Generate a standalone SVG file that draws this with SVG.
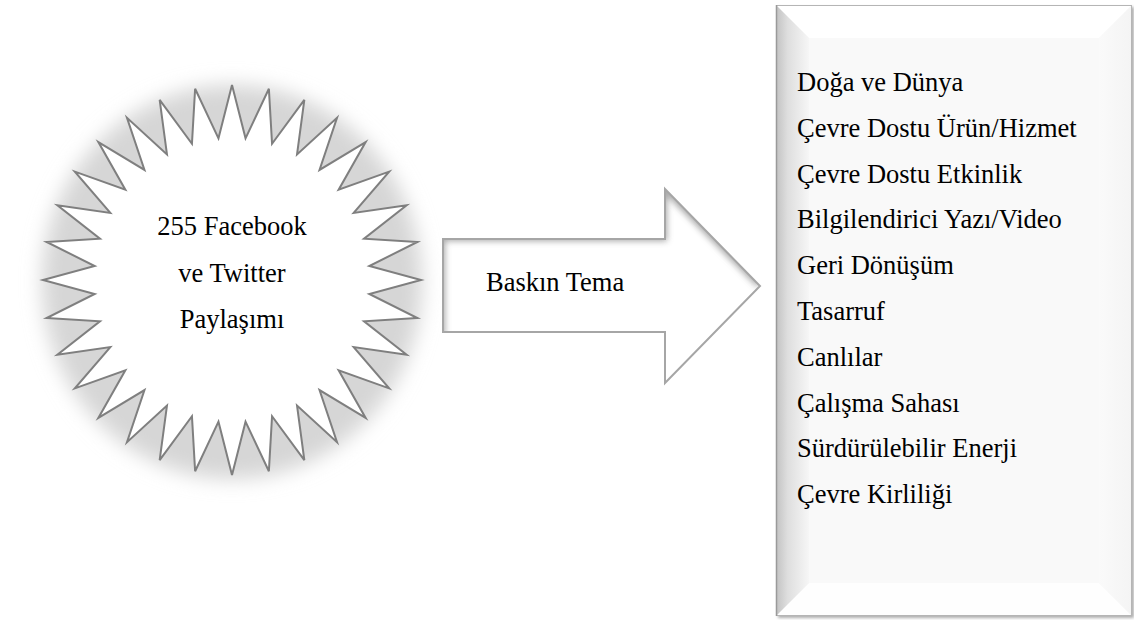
<svg xmlns="http://www.w3.org/2000/svg" width="1134" height="620" viewBox="0 0 1134 620">
<style>
  text { font-family: 'Liberation Serif', 'Times New Roman', serif; font-size: 26.5px; fill: #000; }
  .mid { text-anchor: middle; }
</style>
<defs>
  <filter id="halo" x="-20%" y="-20%" width="140%" height="140%">
    <feGaussianBlur stdDeviation="10"/>
  </filter>
  <filter id="soft" x="-20%" y="-20%" width="140%" height="140%">
    <feGaussianBlur stdDeviation="3"/>
  </filter>
  <filter id="boxShadow" x="-5%" y="-5%" width="110%" height="110%">
    <feGaussianBlur stdDeviation="1.5"/>
  </filter>
  <clipPath id="arrowClip">
    <polygon points="443,239 665,239 665,189 760,286 665,383 665,332 443,332"/>
  </clipPath>
  <linearGradient id="leftBevel" x1="0" y1="0" x2="1" y2="0">
    <stop offset="0" stop-color="#c2c2c2"/>
    <stop offset="0.35" stop-color="#dedede"/>
    <stop offset="1" stop-color="#f6f6f6"/>
  </linearGradient>
  <linearGradient id="rightBevel" x1="0" y1="0" x2="1" y2="0">
    <stop offset="0" stop-color="#fafafa"/>
    <stop offset="1" stop-color="#f4f4f4"/>
  </linearGradient>
</defs>

<g id="source-star">
  <ellipse cx="232" cy="282" rx="190" ry="197" fill="#d6d6d6" filter="url(#halo)"/>
  <polygon transform="translate(232,280) scale(189,195)" fill="#ffffff" stroke="#7f7f7f" stroke-width="2" vector-effect="non-scaling-stroke" stroke-linejoin="miter"
    points="0,-1 0.0716,-0.7265 0.1951,-0.9808 0.2119,-0.6986 0.3827,-0.9239 0.3441,-0.6438 0.5556,-0.8315 0.4631,-0.5643 0.7071,-0.7071 0.5643,-0.4631 0.8315,-0.5556 0.6438,-0.3441 0.9239,-0.3827 0.6986,-0.2119 0.9808,-0.1951 0.7265,-0.0716 1,0 0.7265,0.0716 0.9808,0.1951 0.6986,0.2119 0.9239,0.3827 0.6438,0.3441 0.8315,0.5556 0.5643,0.4631 0.7071,0.7071 0.4631,0.5643 0.5556,0.8315 0.3441,0.6438 0.3827,0.9239 0.2119,0.6986 0.1951,0.9808 0.0716,0.7265 0,1 -0.0716,0.7265 -0.1951,0.9808 -0.2119,0.6986 -0.3827,0.9239 -0.3441,0.6438 -0.5556,0.8315 -0.4631,0.5643 -0.7071,0.7071 -0.5643,0.4631 -0.8315,0.5556 -0.6438,0.3441 -0.9239,0.3827 -0.6986,0.2119 -0.9808,0.1951 -0.7265,0.0716 -1,0 -0.7265,-0.0716 -0.9808,-0.1951 -0.6986,-0.2119 -0.9239,-0.3827 -0.6438,-0.3441 -0.8315,-0.5556 -0.5643,-0.4631 -0.7071,-0.7071 -0.4631,-0.5643 -0.5556,-0.8315 -0.3441,-0.6438 -0.3827,-0.9239 -0.2119,-0.6986 -0.1951,-0.9808 -0.0716,-0.7265"/>
  <text class="mid" x="232" y="235">255 Facebook</text>
  <text class="mid" x="232" y="281.5">ve Twitter</text>
  <text class="mid" x="232" y="328">Paylaşımı</text>
</g>

<g id="connectors">
  <g id="arrow-baskin-tema">
    <polygon points="443,239 665,239 665,189 760,286 665,383 665,332 443,332" fill="#ffffff"/>
    <g clip-path="url(#arrowClip)">
      <polyline points="441,336 441,237 663,237 663,186 760,284" fill="none" stroke="#8a8a8a" stroke-width="8" stroke-linejoin="miter" filter="url(#soft)" opacity="0.75"/>
    </g>
    <polygon points="443,239 665,239 665,189 760,286 665,383 665,332 443,332" fill="none" stroke="#a6a6a6" stroke-width="2"/>
    <text x="486" y="290.7">Baskın Tema</text>
  </g>
</g>

<g id="theme-list">
  <rect x="778" y="7" width="356" height="611" fill="#8c8c8c" opacity="0.7" filter="url(#boxShadow)"/>
  <rect x="776" y="5" width="356" height="611" fill="#f9f9f9"/>
  <polygon points="776,5 1132,5 1099,38 809,38" fill="#ffffff"/>
  <polygon points="776,616 1132,616 1099,583 809,583" fill="#fefefe"/>
  <polygon points="1132,5 1132,616 1099,583 1099,38" fill="url(#rightBevel)"/>
  <polygon points="776,5 809,38 809,583 776,616" fill="url(#leftBevel)"/>
  <rect x="776.5" y="5.5" width="355" height="610" fill="none" stroke="#b5b5b5" stroke-width="1"/>
  <line x1="776.5" y1="5" x2="776.5" y2="616" stroke="#9a9a9a" stroke-width="1.5"/>
  <text x="797" y="91">Doğa ve Dünya</text>
  <text x="797" y="136.8">Çevre Dostu Ürün/Hizmet</text>
  <text x="797" y="182.6">Çevre Dostu Etkinlik</text>
  <text x="797" y="228.4">Bilgilendirici Yazı/Video</text>
  <text x="797" y="274.2">Geri Dönüşüm</text>
  <text x="797" y="320">Tasarruf</text>
  <text x="797" y="365.8">Canlılar</text>
  <text x="797" y="411.6">Çalışma Sahası</text>
  <text x="797" y="457.4">Sürdürülebilir Enerji</text>
  <text x="797" y="503.2">Çevre Kirliliği</text>
</g>
</svg>
